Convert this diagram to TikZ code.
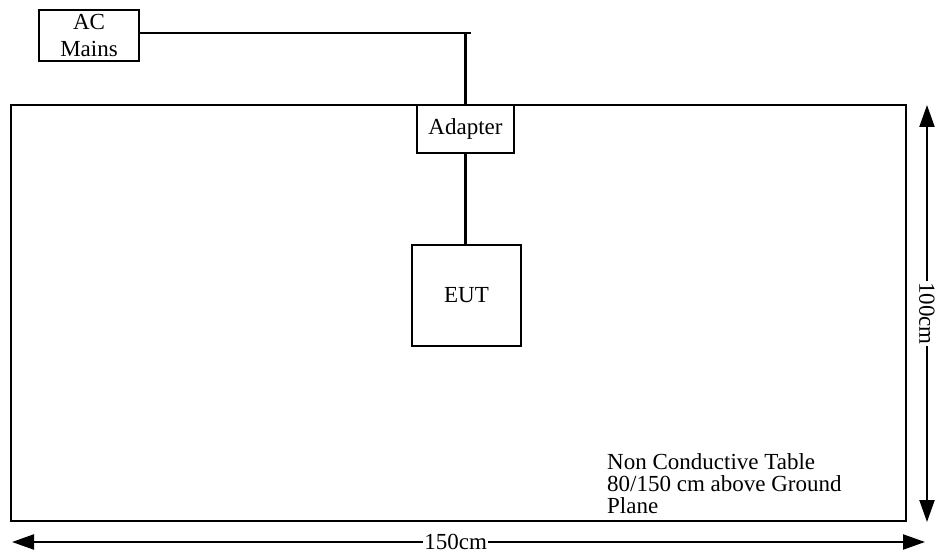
\documentclass[tikz,border=0pt]{standalone}
\usepackage{fontspec}
\setmainfont{Liberation Serif}
\usetikzlibrary{positioning,arrows.meta}

\begin{document}
\begin{tikzpicture}[x=1pt, y=-1pt,
    font=\fontsize{23}{22}\selectfont,
    box/.style={draw, line width=2.4pt, inner sep=0pt},
    wire/.style={line width=2.2pt},
    dimline/.style={line width=2.2pt, {Triangle[length=22pt,width=15pt]}-{Triangle[length=22pt,width=15pt]}}]
    \useasboundingbox (0,0) rectangle (936,553);

    % Table
    \node[box, minimum width=895pt, minimum height=416pt] (table) at (458.5,313) {};

    % AC mains and adapter
    \node[box, minimum width=100pt, minimum height=51pt, align=center,
          font=\fontsize{23}{27}\selectfont] (ac) at (89,35.5) {AC\\Mains};
    \node[box, fill=white, minimum width=97pt, minimum height=48pt] (adapter) at (465.5,129) {Adapter};
    \coordinate (stub) at (471,33);
    \draw[wire] (ac.east |- stub) -- (stub);
    \draw[wire] (adapter.north) -- (adapter.north |- stub);

    % EUT
    \node[box, minimum width=109pt, minimum height=101pt] (eut) at (466.5,295.5) {EUT};
    \draw[wire] (adapter.south) -- (adapter.south |- eut.north);

    % Table note
    \node[anchor=north west, inner sep=0pt, align=left] (note) at (607,453)
        {Non Conductive Table\\80/150 cm above Ground\\Plane};

    % Dimensions
    \coordinate (wl) at (12,542);
    \coordinate (wr) at (925,542);
    \draw[dimline] (wl) -- node[pos=0.486, fill=white, inner sep=1pt] (width) {150cm} (wr);
    \coordinate (ht) at (927,105);
    \coordinate (hb) at (927,522);
    \draw[dimline] (ht) -- node[midway, fill=white, inner sep=1pt, rotate=-90] (height) {100cm} (hb);
\end{tikzpicture}
\end{document}
